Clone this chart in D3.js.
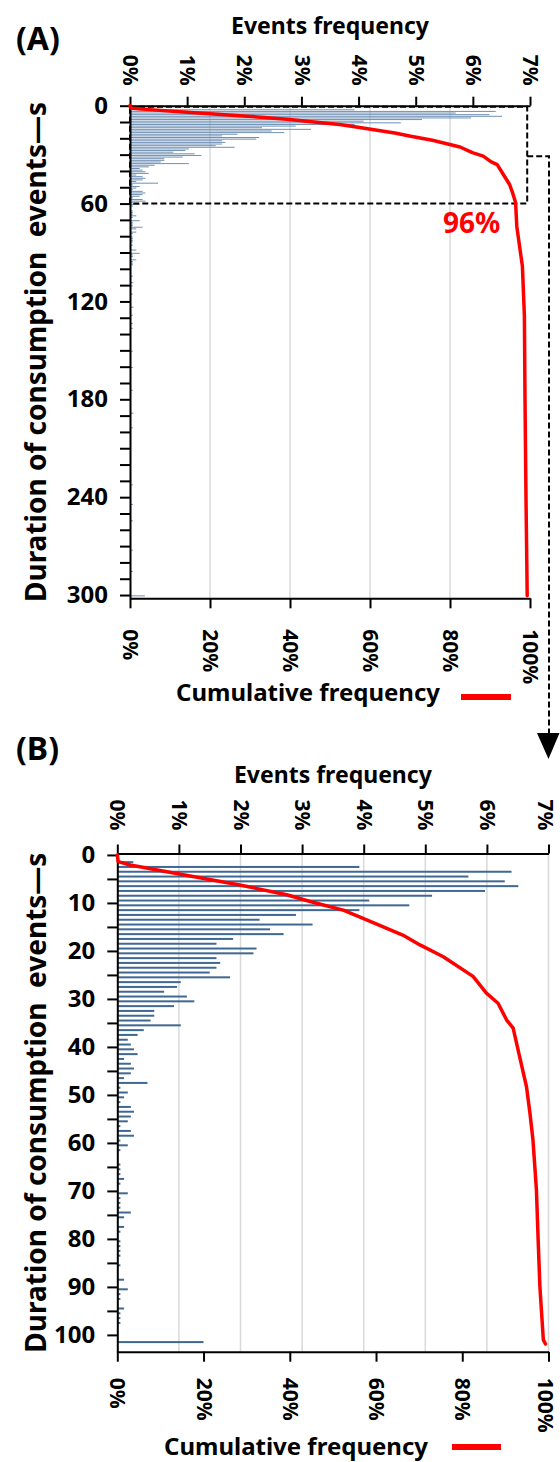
<!DOCTYPE html>
<html>
<head>
<meta charset="utf-8">
<script src="https://cdn.jsdelivr.net/npm/d3@7"></script>
<style>
  body { margin: 0; background: #fff; }
  svg text { font-family: "Noto Sans", sans-serif; font-weight: 700; }
</style>
</head>
<body>
<div id="chart"></div>
<script>
// events frequency (%) for each duration second, 0..100 s
const freqShort = [
  0, 0.26, 3.93, 6.40, 5.70, 6.29, 6.51, 5.97, 5.11, 4.09,
  4.74, 3.93, 2.90, 2.31, 3.17, 2.48, 2.70, 1.88, 1.61, 2.26,
  2.21, 1.61, 1.67, 1.61, 1.50, 1.83, 1.03, 0.97, 0.76, 1.13,
  1.25, 0.92, 0.60, 0.60, 0.54, 1.03, 0.43, 0.33, 0.17, 0.22,
  0.27, 0.33, 0.11, 0.22, 0.27, 0.22, 0.11, 0.49, 0.05, 0.17,
  0.11, 0.05, 0.22, 0.27, 0.22, 0.17, 0.05, 0.22, 0.27, 0.05,
  0.17, 0.05, 0, 0, 0.05, 0.05, 0.05, 0.11, 0.05, 0,
  0.17, 0.05, 0.05, 0.05, 0.22, 0.11, 0, 0.11, 0.05, 0,
  0.05, 0.05, 0.05, 0.05, 0, 0.05, 0, 0, 0.11, 0,
  0.17, 0.05, 0.05, 0, 0.11, 0.05, 0.05, 0.05, 0, 0,
  0
];

// sparse events above 100 s (only in panel A)
const tailSeconds = [104, 108, 110, 115, 123, 128, 133, 136, 150, 160, 174, 188, 197, 232, 244, 254, 272, 285];
const tailFreq = [0.05, 0.06, 0.05, 0.05, 0.06, 0.05, 0.05, 0.05, 0.05, 0.05, 0.05, 0.06, 0.05, 0.05, 0.05, 0.05, 0.05, 0.05];

// last (open) bin of each panel
const lastBinA = { sec: 300, freq: 0.26 };
const lastBinB = { sec: 101, freq: 1.40 };

// cumulative frequency curve (%), common start
const cumSeconds = [0, 1.4, 2.1, 3.8, 6.25, 8.3, 9.7, 11.5, 13.2, 16.7, 18.75, 21.2, 25.3, 28.8, 30.9, 34.4, 36.1, 42, 48.3, 53.8, 59.4];
const cumPct = [0, 0.2, 3, 13.4, 28.4, 39.3, 44.7, 52.4, 57.0, 66.2, 70.2, 75.6, 82.5, 85.6, 88.3, 90.3, 91.8, 93.3, 94.9, 95.7, 96.4];
// tail of the curve as read in each panel
const cumTailSecA = [74, 98.5, 129, 180, 241, 300.5];
const cumTailPctA = [96.7, 98.1, 98.6, 98.75, 99.0, 99.3];
const cumTailSecB = [69.8, 80.2, 89.9, 101, 101.9];
const cumTailPctB = [97.2, 97.6, 98.0, 98.8, 99.3];

const freqTicks = [0, 1, 2, 3, 4, 5, 6, 7];
const cumTicks = [0, 20, 40, 60, 80, 100];

const W = 560, H = 1462;
const tickFont = 21;

const svg = d3.select("#chart")
  .append("svg")
    .attr("width", W)
    .attr("height", H)
    .style("display", "block");

svg.append("rect").attr("width", W).attr("height", H).attr("fill", "#fff");

const baseBars = freqShort.map((f, i) => ({ sec: i, freq: f }));
const baseCurve = cumSeconds.map((s, i) => [s, cumPct[i]]);

// rotated labels: keep the glyph box inside the page at the right edge
function rotDy(x) {
  const over = x + (1.07 - 0.35) * tickFont - (W - 0.5);
  return over > 0 ? (0.35 + over / tickFont) + "em" : "0.35em";
}

function drawPanel(p) {
  const g = svg.append("g");

  const xF = d3.scaleLinear().domain([0, 7]).range([p.left, p.right]);
  const xC = d3.scaleLinear().domain([0, 100]).range([p.left, p.right]);
  const y = d3.scaleLinear().domain(p.yDomain).range([p.top, p.bottom]);

  // gridlines
  const gs = p.gridOn === "freq" ? xF : xC;
  g.append("g").selectAll("line")
    .data(p.gridValues)
    .join("line")
      .attr("x1", d => gs(d)).attr("x2", d => gs(d))
      .attr("y1", p.top).attr("y2", p.bottom)
      .attr("stroke", "#d9d9d9")
      .attr("stroke-width", 1.5);

  // bars
  g.append("g").selectAll("rect")
    .data(p.bars.filter(d => d.freq > 0))
    .join("rect")
      .attr("x", xF(0))
      .attr("width", d => xF(d.freq) - xF(0))
      .attr("y", d => y(d.sec + 0.5) - p.barH / 2)
      .attr("height", p.barH)
      .attr("fill", p.barColor);

  // top axis (events frequency)
  const top = g.append("g")
    .attr("transform", `translate(0,${p.top})`)
    .call(d3.axisTop(xF).tickValues(freqTicks).tickSize(9).tickSizeOuter(0).tickFormat(d => d + "%"));
  styleAxis(top);
  top.selectAll(".tick text")
    .attr("transform", "rotate(90)")
    .attr("x", -p.topGap).attr("y", 0)
    .attr("dy", d => rotDy(xF(d)))
    .attr("text-anchor", "end")
    .style("font-size", tickFont + "px");

  // bottom axis (cumulative frequency)
  const bottom = g.append("g")
    .attr("transform", `translate(0,${p.bottom})`)
    .call(d3.axisBottom(xC).tickValues(cumTicks).tickSize(10).tickSizeOuter(0).tickFormat(d => d + "%"));
  styleAxis(bottom);
  bottom.selectAll(".tick text")
    .attr("transform", "rotate(90)")
    .attr("x", p.bottomGap).attr("y", 0)
    .attr("dy", d => rotDy(xC(d)))
    .attr("text-anchor", "start")
    .style("font-size", tickFont + "px");

  // left axis (duration)
  const left = g.append("g")
    .attr("transform", `translate(${p.left},0)`)
    .call(d3.axisLeft(y)
      .tickValues(d3.range(0, p.yMax + 1, p.minorStep))
      .tickSize(10).tickSizeOuter(0).tickPadding(12)
      .tickFormat(d => d % p.labelStep === 0 ? d : ""));
  styleAxis(left);
  left.selectAll(".tick text").style("font-size", "24px");

  // titles
  g.append("text")
    .attr("x", 16).attr("y", p.letterY)
    .style("font-size", "32px")
    .text(p.letter);

  g.append("text")
    .attr("x", (p.left + p.right) / 2).attr("y", p.topTitleY)
    .attr("text-anchor", "middle")
    .style("font-size", "23px")
    .text("Events frequency");

  g.append("text")
    .attr("transform", `translate(${p.yTitleX},${(p.top + p.bottom) / 2}) rotate(-90)`)
    .attr("text-anchor", "middle")
    .style("font-size", "28px")
    .style("white-space", "pre")
    .text("Duration of consumption  events\u2014s");

  g.append("text")
    .attr("x", p.cumTitleX).attr("y", p.cumTitleY)
    .attr("text-anchor", "middle")
    .style("font-size", "24px")
    .text("Cumulative frequency");

  g.append("line")
    .attr("x1", p.legendX[0]).attr("x2", p.legendX[1])
    .attr("y1", p.legendY).attr("y2", p.legendY)
    .attr("stroke", "#ff0000")
    .attr("stroke-width", 6);

  if (p.annotate) p.annotate(g, xF, xC, y);

  // cumulative curve
  g.append("path")
    .datum(p.curve)
    .attr("d", d3.line().x(d => xC(d[1])).y(d => y(d[0])))
    .attr("fill", "none")
    .attr("stroke", "#ff0000")
    .attr("stroke-width", 3.5)
    .attr("stroke-linejoin", "round")
    .attr("stroke-linecap", "round");
}

function styleAxis(sel) {
  sel.attr("font-family", null).attr("font-size", null);
  sel.select(".domain").attr("stroke", "#000").attr("stroke-width", 2);
  sel.selectAll(".tick line").attr("stroke", "#000").attr("stroke-width", 2);
  sel.selectAll(".tick text").attr("fill", "#000");
}

// Panel A: full range 0..300 s
drawPanel({
  left: 130, right: 530, top: 105.7, bottom: 598.3,
  yDomain: [0, 302], yMax: 300, minorStep: 10, labelStep: 60,
  gridOn: "cum", gridValues: [20, 40, 60, 80],
  bars: baseBars
    .concat(tailSeconds.map((s, i) => ({ sec: s, freq: tailFreq[i] })))
    .concat([lastBinA]),
  barH: 1, barColor: "#6f90b4",
  curve: baseCurve.concat(cumTailSecA.map((s, i) => [s, cumTailPctA[i]])),
  topGap: 20, bottomGap: 31,
  letter: "(A)", letterY: 50, topTitleY: 34, yTitleX: 46,
  cumTitleX: 308, cumTitleY: 701, legendX: [461, 511], legendY: 697,
  annotate: (g, xF, xC, y) => {
    g.append("rect")
      .attr("x", xF(0)).attr("y", y(0) + 1)
      .attr("width", xC(99.3) - xF(0))
      .attr("height", y(60) - y(0) - 1)
      .attr("fill", "none")
      .attr("stroke", "#000")
      .attr("stroke-width", 2)
      .attr("stroke-dasharray", "6,3");
    g.append("path")
      .attr("d", `M${xC(99.3)},${y(31)}H549V733`)
      .attr("fill", "none")
      .attr("stroke", "#000")
      .attr("stroke-width", 2)
      .attr("stroke-dasharray", "6,3");
    g.append("path")
      .attr("d", "M537,733L559.5,733L548.5,759Z")
      .attr("fill", "#000");
    g.append("text")
      .attr("x", 443).attr("y", 233)
      .attr("fill", "#ff0000")
      .style("font-size", "28px")
      .text("96%");
  }
});

// Panel B: zoom on 0..100 s
drawPanel({
  left: 117.3, right: 548.5, top: 853.5, bottom: 1351.7,
  yDomain: [-0.3, 103.5], yMax: 100, minorStep: 5, labelStep: 10,
  gridOn: "freq", gridValues: [1, 2, 3, 4, 5, 6, 7],
  bars: baseBars.concat([lastBinB]),
  barH: 2, barColor: "#3f6893",
  curve: baseCurve.concat(cumTailSecB.map((s, i) => [s, cumTailPctB[i]])),
  topGap: 23, bottomGap: 26,
  letter: "(B)", letterY: 760, topTitleY: 783, yTitleX: 46,
  cumTitleX: 296, cumTitleY: 1455, legendX: [452, 501], legendY: 1447
});
</script>
</body>
</html>
